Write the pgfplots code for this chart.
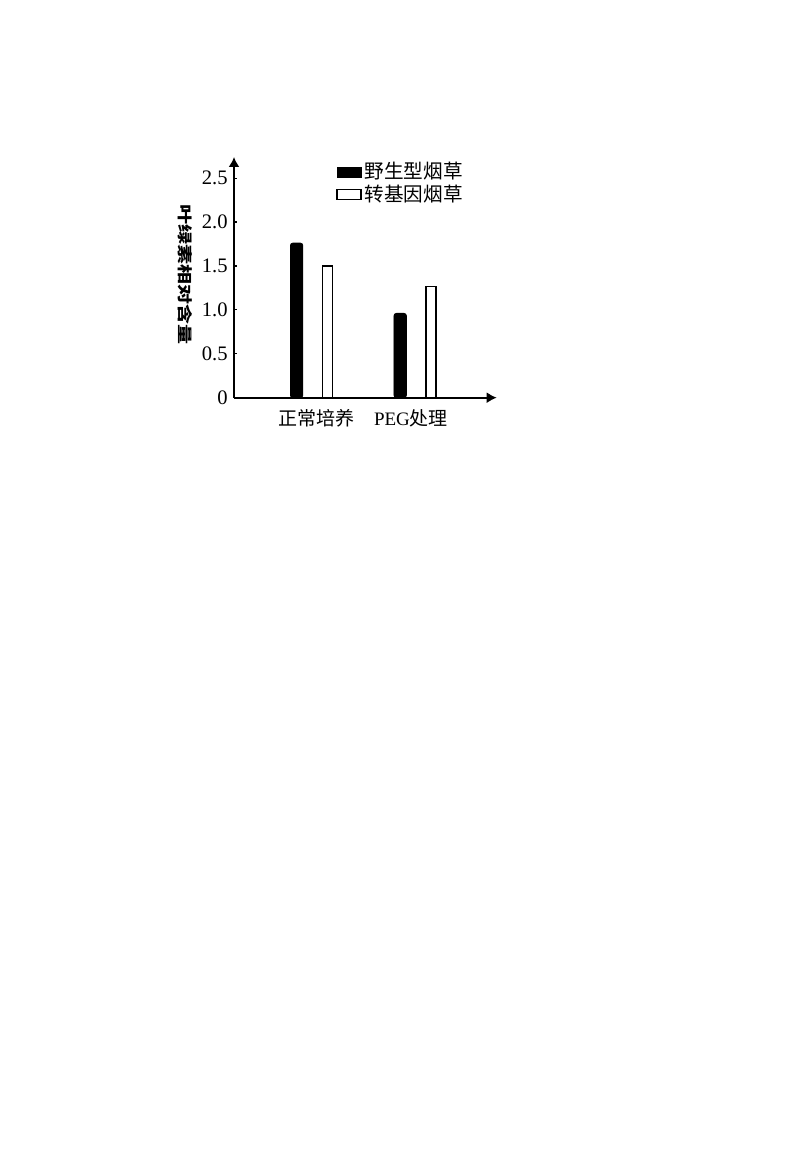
\documentclass[border=0pt]{standalone}
\usepackage{pgfplots}
\pgfplotsset{compat=1.18}
\usetikzlibrary{arrows.meta}
\usepackage{fontspec}
\setmainfont{Liberation Serif}
\newfontfamily\cjk{Noto Sans CJK SC}

\begin{document}
\begin{tikzpicture}
% the whole scanned page, 1 px = 0.5 pt
\path[use as bounding box, fill=white] (0,0) rectangle (400pt,585.5pt);

\begin{axis}[
    at={(117pt,386.65pt)},
    anchor=south west,
    scale only axis,
    width=131.35pt,
    height=120.35pt,
    xmin=-0.753, xmax=1.783,
    ymin=0, ymax=2.741,
    axis lines=left,
    axis line style={line width=0.9pt, -{Latex[length=5pt,width=5.5pt]}},
    ytick={0,0.5,1,1.5,2,2.5},
    yticklabels={0,0.5,1.0,1.5,2.0,2.5},
    tick align=inside,
    major tick length=1.5pt,
    ytick style={line width=0.6pt, black},
    xtick={0,1},
    xtick style={draw=none},
    xticklabels={\hspace*{4pt}{\cjk 正常培养}, PEG{\cjk 处理}\hspace*{4.6pt}},
    xticklabel style={anchor=center, yshift=-8.65pt, font=\fontsize{9.5}{11}\selectfont},
    yticklabel style={inner sep=0pt, xshift=-3pt, font=\fontsize{10.3}{12}\selectfont},
    /pgf/number format/assume math mode=true,
    ylabel={\scalebox{1}[0.75]{\cjk\bfseries 叶绿素相对含量}},
    ylabel style={at={(axis description cs:-0.1865,0.51)}, anchor=center, rotate=180,
                  font=\fontsize{10}{12}\selectfont},
    ybar,
    legend style={at={(0.388,0.980)}, anchor=north west, draw=none, fill=none,
                  inner sep=0pt, row sep=1.7pt, column sep=1.6pt,
                  nodes={inner sep=0pt},
                  font=\cjk\fontsize{9.8}{11}\selectfont},
    legend cell align=left,
    legend image code/.code={\draw[#1, sharp corners] (0pt,-2.5pt) rectangle (12pt,2.5pt);},
]
\addplot[ybar, bar width=6.2pt, bar shift=-7.7pt, fill=black, draw=black,
         rounded corners=1.2pt]
    coordinates {(0,1.76) (1,0.96)};
\addplot[ybar, bar width=5pt, bar shift=7.7pt, fill=white, draw=black,
         line width=0.6pt]
    coordinates {(0,1.50) (1,1.27)};
\legend{野生型烟草, 转基因烟草}
\end{axis}
\end{tikzpicture}
\end{document}
